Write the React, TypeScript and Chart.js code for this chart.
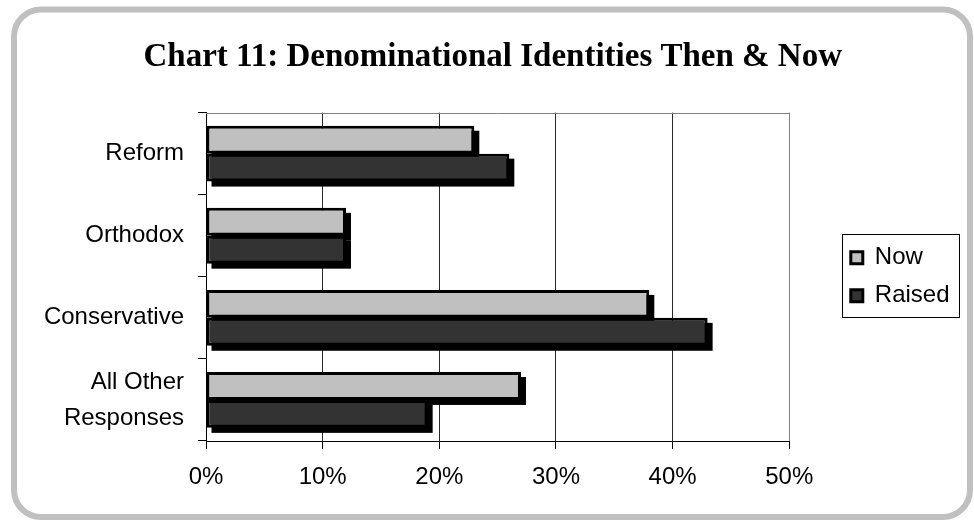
import React, { useEffect, useRef } from 'react';
import { Chart, registerables } from 'chart.js';

Chart.register(...registerables);

const titleText = 'Chart 11: Denominational Identities Then & Now';
const categories: (string | string[])[] = ['Reform', 'Orthodox', 'Conservative', ['All Other', 'Responses']];
const seriesNames = ['Now', 'Raised'];
const nowValues = [23, 12, 38, 27];
const raisedValues = [26, 12, 43, 19];
const xTickMin = 0;
const xTickMax = 50;
const xTickStep = 10;

const SANS = '"Liberation Sans", Arial, sans-serif';
const SERIF = '"Liberation Serif", "Times New Roman", serif';

function roundRectPath(ctx: CanvasRenderingContext2D, x: number, y: number, w: number, h: number, r: number) {
  ctx.beginPath();
  ctx.moveTo(x + r, y);
  ctx.lineTo(x + w - r, y);
  ctx.arcTo(x + w, y, x + w, y + r, r);
  ctx.lineTo(x + w, y + h - r);
  ctx.arcTo(x + w, y + h, x + w - r, y + h, r);
  ctx.lineTo(x + r, y + h);
  ctx.arcTo(x, y + h, x, y + h - r, r);
  ctx.lineTo(x, y + r);
  ctx.arcTo(x, y, x + r, y, r);
  ctx.closePath();
}

const decorPlugin = {
  id: 'decor',
  beforeDraw(chart: any) {
    const ctx = chart.ctx as CanvasRenderingContext2D;
    ctx.save();
    ctx.fillStyle = '#ffffff';
    ctx.fillRect(0, 0, chart.width, chart.height);
    ctx.strokeStyle = '#c0c0c0';
    ctx.lineWidth = 6;
    roundRectPath(ctx, 14, 9.5, 956, 507.5, 27);
    ctx.stroke();
    ctx.restore();
  },
  beforeDatasetsDraw(chart: any) {
    const ctx = chart.ctx as CanvasRenderingContext2D;
    const off = 5;
    ctx.save();
    ctx.fillStyle = '#000000';
    chart.data.datasets.forEach((_d: any, i: number) => {
      const meta = chart.getDatasetMeta(i);
      if (meta.hidden) return;
      meta.data.forEach((el: any) => {
        const p = el.getProps(['x', 'y', 'base', 'height'], true);
        const left = Math.min(p.x, p.base);
        const right = Math.max(p.x, p.base);
        const top = p.y - p.height / 2;
        ctx.fillRect(left + off, top + off, right - left, p.height);
      });
    });
    ctx.restore();
  },
  afterDraw(chart: any) {
    const ctx = chart.ctx as CanvasRenderingContext2D;
    const a = chart.chartArea;
    ctx.save();
    ctx.strokeStyle = '#808080';
    ctx.lineWidth = 1;
    ctx.beginPath();
    ctx.moveTo(a.left, Math.round(a.top) + 0.5);
    ctx.lineTo(a.right, Math.round(a.top) + 0.5);
    ctx.stroke();
    const lg = chart.legend;
    if (lg && lg.legendHitBoxes && lg.legendHitBoxes.length) {
      const hb = lg.legendHitBoxes;
      const first = hb[0];
      const last = hb[hb.length - 1];
      const l = Math.round(lg.left + 5.5) + 0.5;
      const r = Math.round(lg.right - 0.5) + 0.5;
      const t = Math.round(first.top - 12) + 0.5;
      const b = Math.round(last.top + last.height + 9) + 0.5;
      ctx.strokeStyle = '#000000';
      ctx.lineWidth = 1;
      ctx.strokeRect(l, t, r - l, b - t);
    }
    ctx.restore();
  },
};

export default function App() {
  const ref = useRef<HTMLCanvasElement | null>(null);
  useEffect(() => {
    if (!ref.current) return;
    const chart = new Chart(ref.current, {
      type: 'bar',
      data: {
        labels: categories as any,
        datasets: [
          {
            label: seriesNames[0],
            data: nowValues,
            backgroundColor: '#c0c0c0',
            borderColor: '#000000',
            borderWidth: 3,
            borderSkipped: false,
            yAxisID: 'y',
            xAxisID: 'x',
          },
          {
            label: seriesNames[1],
            data: raisedValues,
            backgroundColor: '#333333',
            borderColor: '#000000',
            borderWidth: 3,
            borderSkipped: false,
            yAxisID: 'y',
            xAxisID: 'x',
          },
        ],
      },
      options: {
        indexAxis: 'y',
        responsive: false,
        animation: false,
        events: [],
        datasets: { bar: { categoryPercentage: 0.68, barPercentage: 1 } },
        layout: { padding: { top: 0, left: 26, right: 14.5, bottom: 20 } },
        plugins: {
          title: {
            display: true,
            text: titleText,
            color: '#000000',
            font: { family: SERIF, size: 33, weight: 'bold', lineHeight: 1.2 },
            padding: { top: 38, bottom: 35 },
          },
          legend: {
            display: true,
            position: 'right',
            align: 'center',
            fullSize: false,
            labels: {
              color: '#000000',
              font: { family: SANS, size: 24, lineHeight: 1.2 },
              boxWidth: 12,
              boxHeight: 12,
              padding: 14,
            },
          },
          tooltip: { enabled: false },
        },
        scales: {
          x: {
            type: 'linear',
            position: 'bottom',
            min: xTickMin,
            max: xTickMax,
            ticks: {
              stepSize: xTickStep,
              color: '#000000',
              font: { family: SANS, size: 24 },
              padding: 14,
              callback: (v: any) => v + '%',
            },
            grid: {
              color: (c: any) => (c.tick && c.tick.value === xTickMax ? '#808080' : '#2a2a2a'),
              tickColor: '#000000',
              tickLength: 8,
              lineWidth: 1,
            },
            border: { display: true, color: '#000000', width: 1 },
            afterFit: (s: any) => {
              s.height = 60;
            },
          },
          y: {
            type: 'category',
            position: 'left',
            ticks: {
              color: '#000000',
              font: { family: SANS, size: 24, lineHeight: 1.5 },
              padding: 14,
            },
            grid: {
              display: true,
              offset: true,
              drawOnChartArea: false,
              drawTicks: true,
              tickLength: 8,
              tickColor: '#000000',
            },
            border: { display: true, color: '#000000', width: 1 },
            afterFit: (s: any) => {
              s.width = 180;
            },
          },
          spacer: {
            type: 'linear',
            axis: 'y',
            position: 'right',
            display: true,
            grid: { display: false, drawTicks: false },
            border: { display: false },
            ticks: { display: false },
            afterFit: (s: any) => {
              s.width = 47.5;
            },
          },
        } as any,
      },
      plugins: [decorPlugin],
    } as any);
    return () => chart.destroy();
  }, []);
  return (
    <div style={{ position: 'absolute', left: 0, top: 0, width: 974, height: 521, background: '#fff' }}>
      <canvas ref={ref} width={974} height={521} style={{ display: 'block', width: 974, height: 521 }} />
    </div>
  );
}
